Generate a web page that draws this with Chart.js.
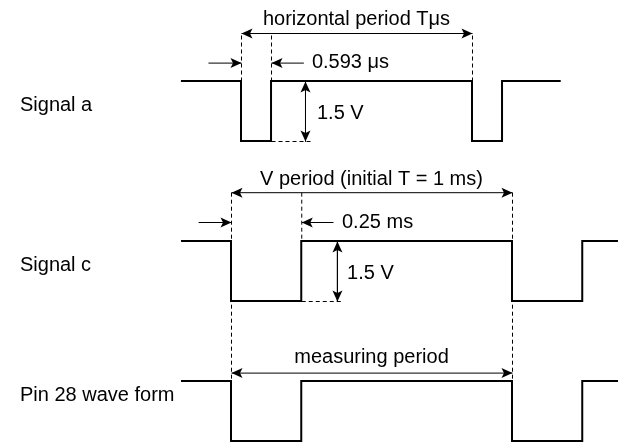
<!DOCTYPE html>
<html><head><meta charset="utf-8">
<script src="https://cdn.jsdelivr.net/npm/chart.js@4/dist/chart.umd.min.js"></script>
<style>html,body{margin:0;padding:0;background:#fff;}canvas{display:block;}</style>
</head><body>
<canvas id="c" width="618" height="442"></canvas>
<script>
// ---- Data ----
const signalNames = ['Signal a', 'Signal c', 'Pin 28 wave form'];
// Signal a: time in units of the horizontal period T, level in volts
const signalA_time  = [-0.26, 0, 0.13, 1, 1.13, 1.384];
const signalA_volts = [1.5, 0, 1.5, 0, 1.5, 1.5];
// Signal c: time in ms
const signalC_time  = [-0.178, 0, 0.25, 1, 1.25, 1.38];
const signalC_volts = [1.5, 0, 1.5, 0, 1.5, 1.5];
// Pin 28 wave form: time in ms
const pin28_time  = [-0.178, 0, 0.25, 1, 1.25, 1.38];
const pin28_volts = [1.5, 0, 1.5, 0, 1.5, 1.5];
// Annotated quantities
const hPeriodT = 1;        // horizontal period T
const hLowWidthT = 0.13;   // 0.593 µs low pulse (in T units)
const vPeriodMs = 1;       // V period, initial T = 1 ms
const vLowWidthMs = 0.25;  // 0.25 ms
const amplitudeV = 1.5;    // 1.5 V
const annotationTexts = ['horizontal period Tμs', '0.593 μs', '1.5 V',
  'V period (initial T = 1 ms)', '0.25 ms', '1.5 V', 'measuring period'];

// ---- Layout (row offsets on the y axis) ----
const rowOffset = [7.5, 3.5, 0];

function wave(axis, times, volts, off) {
  return { xAxisID: axis, yAxisID: 'y', data: times.map((t, i) => ({x: t, y: volts[i] + off})),
    stepped: true, borderColor: '#000', borderWidth: 2, pointRadius: 0, fill: false,
    borderJoinStyle: 'miter', borderCapStyle: 'butt' };
}
function dashed(axis, x0, y0, x1, y1) {
  return { xAxisID: axis, yAxisID: 'y', data: [{x: x0, y: y0}, {x: x1, y: y1}], crisp: true,
    borderColor: '#000', borderWidth: 1, borderDash: [4, 3], pointRadius: 0, fill: false };
}
function arrow(axis, x0, y0, x1, y1, heads) {
  return { xAxisID: axis, yAxisID: 'y', data: [{x: x0, y: y0}, {x: x1, y: y1}], crisp: true,
    borderColor: '#000', borderWidth: 1, pointRadius: 0, fill: false, arrowHeads: heads };
}

const yA = rowOffset[0], yC = rowOffset[1], yP = rowOffset[2];
const arrowA = 10.2, markA = 9.46, arrowC = 6.22, markC = 5.475, arrowP = 1.71;

const datasets = [
  wave('xT', signalA_time, signalA_volts, yA),
  wave('xms', signalC_time, signalC_volts, yC),
  wave('xms', pin28_time, pin28_volts, yP),
  // signal a guides
  dashed('xT', 0, yA + amplitudeV, 0, arrowA),
  dashed('xT', hLowWidthT, yA + amplitudeV, hLowWidthT, arrowA),
  dashed('xT', hPeriodT, yA + amplitudeV, hPeriodT, arrowA),
  dashed('xT', hLowWidthT, yA, 0.307, yA),
  arrow('xT', 0, arrowA, hPeriodT, arrowA, 'both'),
  arrow('xT', -0.143, markA, 0, markA, 'end'),
  arrow('xT', 0.27, markA, hLowWidthT, markA, 'end'),
  arrow('xT', 0.277, yA + amplitudeV, 0.277, yA, 'both'),
  // signal c guides
  dashed('xms', 0, arrowC, 0, yP + amplitudeV),
  dashed('xms', vLowWidthMs, arrowC, vLowWidthMs, yC + amplitudeV),
  dashed('xms', vPeriodMs, arrowC, vPeriodMs, yP + amplitudeV),
  dashed('xms', vLowWidthMs, yC, 0.395, yC),
  arrow('xms', 0, arrowC, vPeriodMs, arrowC, 'both'),
  arrow('xms', -0.117, markC, 0, markC, 'end'),
  arrow('xms', 0.363, markC, vLowWidthMs, markC, 'end'),
  arrow('xms', 0.377, yC + amplitudeV, 0.377, yC, 'both'),
  // pin 28
  arrow('xms', 0, arrowP, vPeriodMs, arrowP, 'both')
];

const textItems = [
  {axis: 'xT', x: 0.5, y: 10.55, text: annotationTexts[0], align: 'center'},
  {axis: 'xT', x: 0.307, y: markA, text: annotationTexts[1], align: 'left'},
  {axis: 'xT', x: 0.329, y: 8.2, text: annotationTexts[2], align: 'left'},
  {axis: 'xms', x: 0.5, y: 6.55, text: annotationTexts[3], align: 'center'},
  {axis: 'xms', x: 0.395, y: markC, text: annotationTexts[4], align: 'left'},
  {axis: 'xms', x: 0.413, y: 4.2, text: annotationTexts[5], align: 'left'},
  {axis: 'xms', x: 0.5, y: 2.08, text: annotationTexts[6], align: 'center'},
  {axis: 'xms', x: -0.751, y: 8.4, text: signalNames[0], align: 'left'},
  {axis: 'xms', x: -0.751, y: 4.4, text: signalNames[1], align: 'left'},
  {axis: 'xms', x: -0.751, y: 1.15, text: signalNames[2], align: 'left'}
];

function drawHead(ctx, from, to) {
  const dx = to.x - from.x, dy = to.y - from.y;
  const len = Math.hypot(dx, dy) || 1;
  const ux = dx / len, uy = dy / len, nx = -uy, ny = ux;
  const L = 11, W = 5, N = 8.5;
  ctx.beginPath();
  ctx.moveTo(to.x, to.y);
  ctx.lineTo(to.x - L * ux + W * nx, to.y - L * uy + W * ny);
  ctx.lineTo(to.x - N * ux, to.y - N * uy);
  ctx.lineTo(to.x - L * ux - W * nx, to.y - L * uy - W * ny);
  ctx.closePath();
  ctx.fill();
}

const annotPlugin = {
  id: 'annot',
  beforeDatasetDraw(chart, args) {
    if (chart.data.datasets[args.index].crisp) { chart.ctx.save(); chart.ctx.translate(0.5, 0.5); }
  },
  afterDatasetDraw(chart, args) {
    if (chart.data.datasets[args.index].crisp) chart.ctx.restore();
  },
  afterDatasetsDraw(chart) {
    const ctx = chart.ctx;
    ctx.save();
    ctx.fillStyle = '#000';
    ctx.save();
    ctx.translate(0.5, 0.5);
    chart.data.datasets.forEach((ds, i) => {
      if (!ds.arrowHeads) return;
      const pts = chart.getDatasetMeta(i).data;
      const a = pts[0], b = pts[pts.length - 1];
      drawHead(ctx, a, b);
      if (ds.arrowHeads === 'both') drawHead(ctx, b, a);
    });
    ctx.restore();
    ctx.font = '20px "Liberation Sans", Arial, sans-serif';
    ctx.textBaseline = 'middle';
    textItems.forEach(t => {
      ctx.textAlign = t.align;
      ctx.fillText(t.text, chart.scales[t.axis].getPixelForValue(t.x), chart.scales.y.getPixelForValue(t.y));
    });
    ctx.restore();
  }
};

new Chart(document.getElementById('c'), {
  type: 'line',
  data: { datasets },
  options: {
    responsive: false, animation: false, devicePixelRatio: 1, events: [],
    layout: { padding: 0 },
    plugins: { legend: { display: false }, tooltip: { enabled: false } },
    scales: {
      xT: { type: 'linear', display: false, min: -241 / 231, max: 377 / 231 },
      xms: { type: 'linear', display: false, min: -231 / 281, max: 387 / 281 },
      y: { type: 'linear', display: false, min: -0.025, max: 11.025 }
    }
  },
  plugins: [annotPlugin]
});
</script>
</body></html>
